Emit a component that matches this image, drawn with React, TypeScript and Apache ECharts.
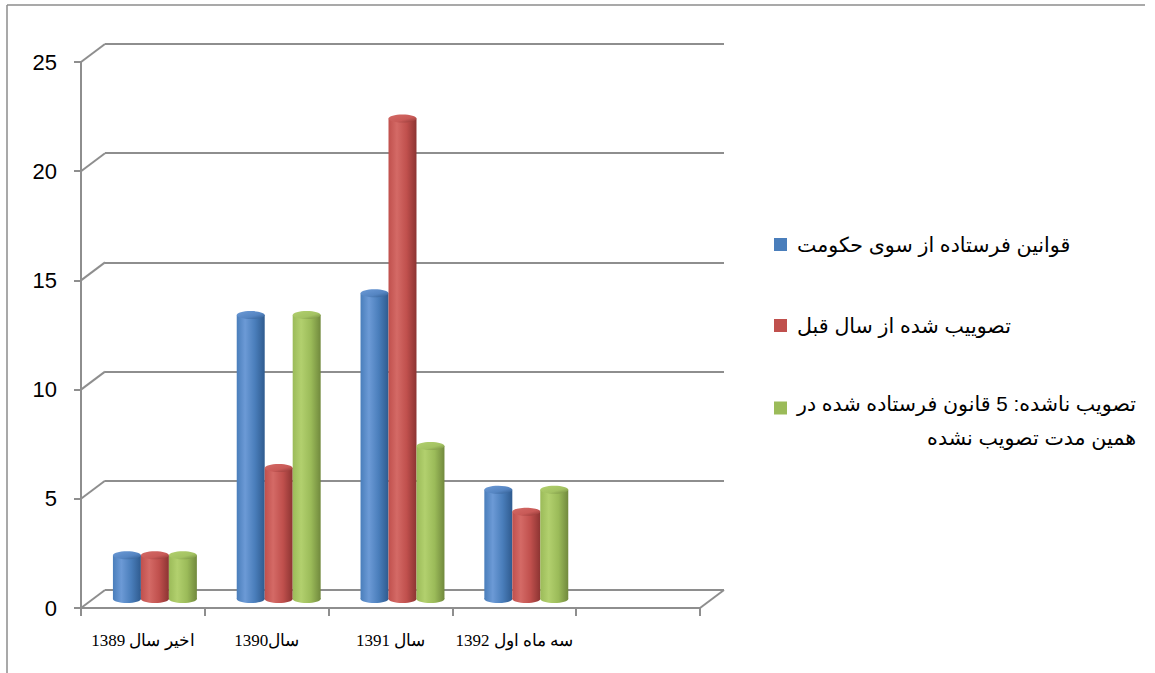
import React, { useEffect, useRef } from 'react';
import * as echarts from 'echarts';

// ---------- data ----------
const categories = ['اخیر سال 1389', 'سال1390', 'سال 1391', 'سه ماه اول 1392', ''];
const seriesNames = [
  'قوانین فرستاده از سوی حکومت',
  'تصوییب شده از سال قبل',
  'تصویب ناشده: 5 قانون فرستاده شده در همین مدت تصویب نشده',
];
const thirdLegendLine1 = 'تصویب ناشده: 5 قانون فرستاده شده در';
const thirdLegendLine2 = 'همین مدت تصویب نشده';
const governmentBills = [2, 13, 14, 5];
const approvedFromLastYear = [2, 6, 22, 4];
const notApproved = [2, 13, 7, 5];
const yTicks = [0, 5, 10, 15, 20, 25];
const yMin = 0;
const yMax = 25;
const yInterval = 5;

// ---------- styles ----------
const GRID_COLOR = '#8e8e8e';
const DEPTH_X = 24;
const DEPTH_Y = 18;
const palettes = [
  { base: '#4a7ebb', light: '#6c9ad6', dark: '#2f5b8f', cap: '#5585c2' },
  { base: '#c0504d', light: '#d46a66', dark: '#8c3432', cap: '#c85a57' },
  { base: '#9bbb59', light: '#b2d06e', dark: '#71893d', cap: '#a3c262' },
];
const seriesValues = [governmentBills, approvedFromLastYear, notApproved];

const LEGEND_FONT = "'Liberation Sans', Arial, 'DejaVu Sans', sans-serif";
const LEGEND_SIZE = 20.6;

function cylinderRenderer(s: number) {
  const p = palettes[s];
  return (params: any, api: any) => {
    const ci = api.value(0);
    const v = api.value(1);
    const base = api.coord([ci, 0]);
    const top = api.coord([ci, v]);
    const band = api.size([1, 0])[0];
    const w = band * 0.226;
    const cx = base[0] + DEPTH_X / 2 + (s - 1) * w;
    const baseY = base[1] - DEPTH_Y / 2;
    const topY = top[1] - DEPTH_Y / 2;
    const ry = 4;
    const bodyGrad = new echarts.graphic.LinearGradient(0, 0, 1, 0, [
      { offset: 0, color: p.base },
      { offset: 0.3, color: p.light },
      { offset: 0.65, color: p.base },
      { offset: 1, color: p.dark },
    ]);
    const capGrad = new echarts.graphic.LinearGradient(0, 0, 1, 1, [
      { offset: 0, color: p.light },
      { offset: 0.6, color: p.cap },
      { offset: 1, color: p.dark },
    ]);
    return {
      type: 'group',
      children: [
        {
          type: 'ellipse',
          shape: { cx, cy: baseY, rx: w / 2, ry },
          style: { fill: bodyGrad },
        },
        {
          type: 'rect',
          shape: { x: cx - w / 2, y: topY, width: w, height: baseY - topY },
          style: { fill: bodyGrad },
        },
        {
          type: 'ellipse',
          shape: { cx, cy: topY, rx: w / 2, ry },
          style: { fill: capGrad },
        },
      ],
    };
  };
}

export default function App() {
  const ref = useRef<HTMLDivElement>(null);

  useEffect(() => {
    if (!ref.current) return;
    const chart = echarts.init(ref.current, undefined, { renderer: 'svg' });

    const barSeries = seriesValues.map((vals, s) => ({
      type: 'custom',
      name: seriesNames[s],
      xAxisIndex: 1,
      yAxisIndex: 1,
      z: 3,
      clip: false,
      itemStyle: { color: palettes[s].base },
      encode: { x: 0, y: 1 },
      data: vals.map((v, i) => [i, v]),
      renderItem: cylinderRenderer(s),
    }));

    const diagonalSeries = {
      type: 'custom',
      name: 'depth',
      xAxisIndex: 1,
      yAxisIndex: 1,
      z: 1,
      clip: false,
      silent: true,
      encode: { x: 0, y: 1 },
      data: yTicks.map((v) => [0, v]),
      renderItem: (params: any, api: any) => {
        const cs = params.coordSys;
        const v = api.value(1);
        const y = api.coord([0, v])[1];
        const lineStyle = { stroke: GRID_COLOR, lineWidth: 2 };
        const children: any[] = [
          { type: 'line', shape: { x1: cs.x, y1: y, x2: cs.x + DEPTH_X, y2: y - DEPTH_Y }, style: lineStyle },
        ];
        if (v === yMin) {
          children.push({
            type: 'line',
            shape: { x1: cs.x + cs.width, y1: y, x2: cs.x + cs.width + DEPTH_X, y2: y - DEPTH_Y },
            style: lineStyle,
          });
        }
        return { type: 'group', children };
      },
    };

    const legendCommon = {
      orient: 'vertical',
      left: 774,
      icon: 'rect',
      itemWidth: 13,
      itemHeight: 13,
      selectedMode: false,
      padding: 0,
    };

    const option: any = {
      animation: false,
      backgroundColor: '#ffffff',
      graphic: [
        { type: 'line', shape: { x1: 7, y1: 5, x2: 7, y2: 673 }, style: { stroke: '#8c8c8c', lineWidth: 1.5 } },
        { type: 'line', shape: { x1: 7, y1: 5, x2: 1145, y2: 5 }, style: { stroke: '#8c8c8c', lineWidth: 1.5 } },
      ],
      legend: [
        {
          ...legendCommon,
          top: 234,
          data: [seriesNames[0]],
          formatter: (n: string) => `{p|${n}}`,
          textStyle: {
            rich: { p: { fontFamily: LEGEND_FONT, fontSize: LEGEND_SIZE, color: '#000', lineHeight: 26, padding: [0, 0, 0, 5] } },
          },
        },
        {
          ...legendCommon,
          top: 315,
          data: [seriesNames[1]],
          formatter: (n: string) => `{p|${n}}`,
          textStyle: {
            rich: { p: { fontFamily: LEGEND_FONT, fontSize: LEGEND_SIZE, color: '#000', lineHeight: 26, padding: [0, 0, 0, 5] } },
          },
        },
        {
          ...legendCommon,
          top: 369,
          data: [seriesNames[2]],
          formatter: () => `{e| }\n{r|${thirdLegendLine1}}\n{r|${thirdLegendLine2}}`,
          textStyle: {
            rich: {
              e: { fontSize: 10, lineHeight: 24 },
              r: {
                fontFamily: LEGEND_FONT,
                fontSize: LEGEND_SIZE,
                color: '#000',
                lineHeight: 34,
                align: 'right',
                padding: [0, 0, 0, 5],
              },
            },
          },
        },
      ],
      grid: [
        { left: 105, top: 44, width: 619, height: 546 },
        { left: 81, top: 62, width: 619, height: 546 },
      ],
      xAxis: [
        { type: 'category', gridIndex: 0, data: categories, show: false },
        {
          type: 'category',
          gridIndex: 1,
          data: categories,
          boundaryGap: true,
          axisLine: { show: true, lineStyle: { color: GRID_COLOR, width: 2 } },
          axisTick: { show: true, length: 8, interval: 0, lineStyle: { color: GRID_COLOR, width: 2 } },
          axisLabel: {
            interval: 0,
            margin: 24,
            color: '#000',
            fontSize: 17,
            fontFamily: "'Liberation Serif', 'Times New Roman', serif",
          },
        },
      ],
      yAxis: [
        {
          type: 'value',
          gridIndex: 0,
          min: yMin,
          max: yMax,
          interval: yInterval,
          axisLine: { show: false },
          axisTick: { show: false },
          axisLabel: { show: false },
          splitLine: { show: true, lineStyle: { color: GRID_COLOR, width: 2 } },
        },
        {
          type: 'value',
          gridIndex: 1,
          min: yMin,
          max: yMax,
          interval: yInterval,
          axisLine: { show: true, lineStyle: { color: GRID_COLOR, width: 2 } },
          axisTick: { show: true, length: 7, lineStyle: { color: GRID_COLOR, width: 2 } },
          axisLabel: {
            margin: 24,
            color: '#000',
            fontSize: 22,
            fontFamily: "'Liberation Sans', Arial, sans-serif",
          },
          splitLine: { show: false },
        },
      ],
      series: [diagonalSeries, ...barSeries],
    };

    chart.setOption(option);
    return () => {
      chart.dispose();
    };
  }, []);

  return (
    <div
      ref={ref}
      style={{ position: 'fixed', left: 0, top: 0, width: 1155, height: 673, background: '#fff' }}
    />
  );
}
